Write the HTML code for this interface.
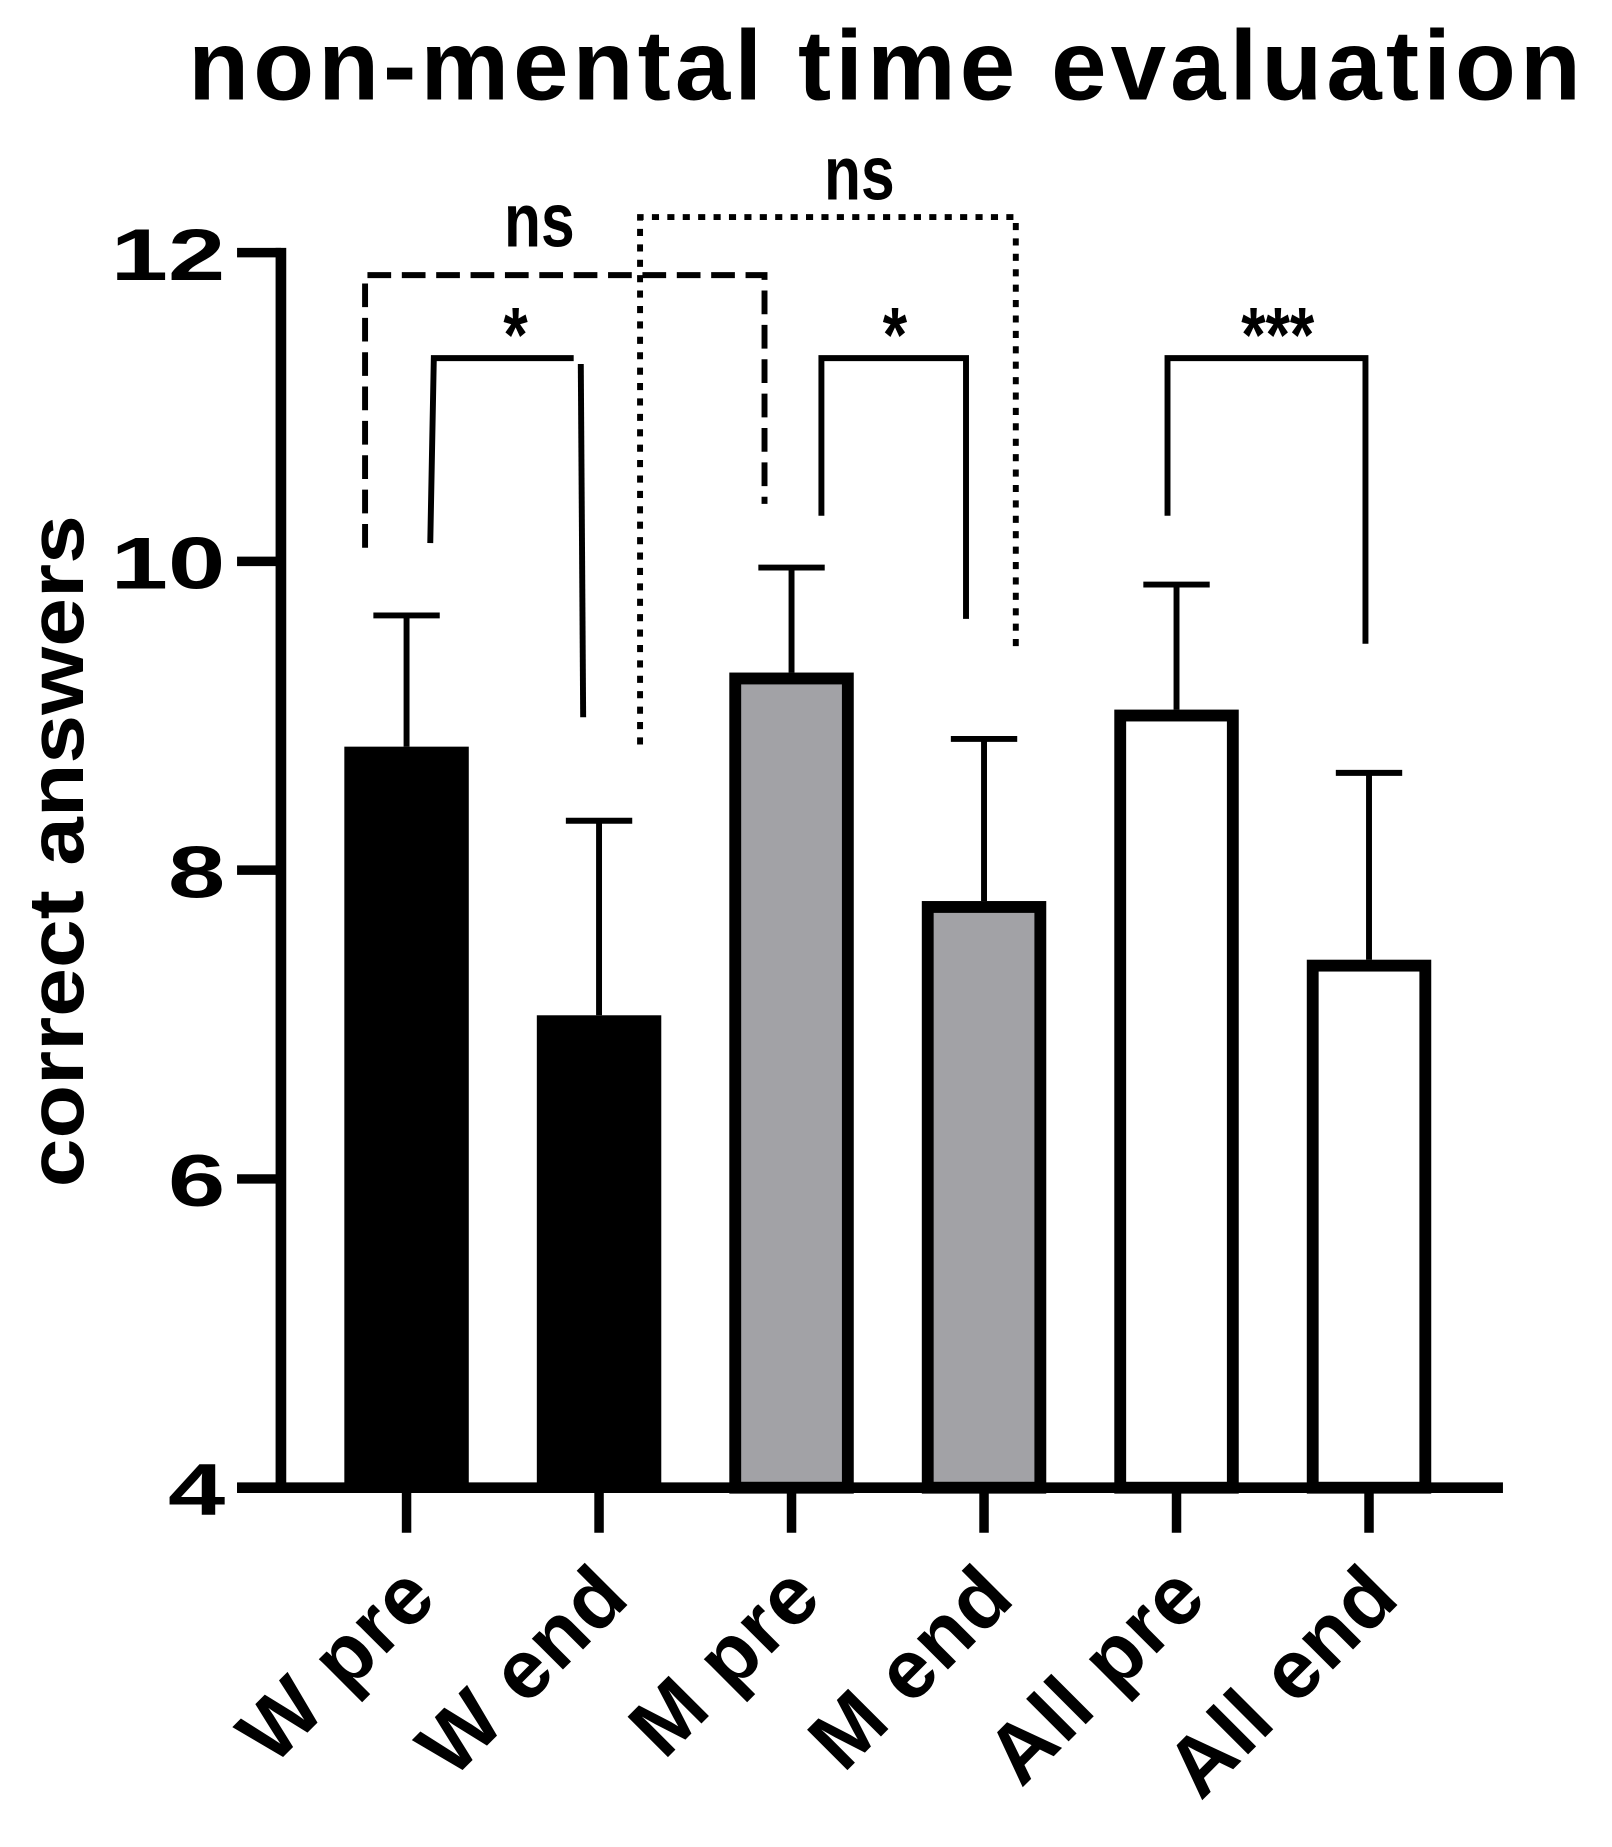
<!DOCTYPE html>
<html><head><meta charset="utf-8">
<style>
html,body{margin:0;padding:0;background:#fff;}
svg{display:block;}
text{font-family:"Liberation Sans",Arial,sans-serif;fill:#000;}
</style></head>
<body>
<svg id="chart" width="1612" height="1847" viewBox="0 0 1360 1558" xmlns="http://www.w3.org/2000/svg">
<text x="748" y="84" text-anchor="middle" font-size="84" font-weight="bold" letter-spacing="3.5">non-mental time evaluation</text>
<g id="g"></g>
</svg>
<script>
const categories = ["W pre","W end","M pre","M end","All pre","All end"];
const means = [8.80, 7.06, 9.28, 7.80, 9.04, 7.42];
const errors = [0.85, 1.26, 0.68, 1.05, 0.81, 1.21];
const fills = ["#000","#000","#a2a2a6","#a2a2a6","#fff","#fff"];
const yTicks = [4, 6, 8, 10, 12];

const NS = "http://www.w3.org/2000/svg";
const g = document.getElementById("g");
const y0 = 1255, yTop = 213, vMin = 4, vMax = 12;
function y(v){ return y0 - (v - vMin) / (vMax - vMin) * (y0 - yTop); }
function x(i){ return 343 + i * 162.4; }
function mk(tag, attrs, parent){
  const e = document.createElementNS(NS, tag);
  for (const k in attrs) e.setAttribute(k, attrs[k]);
  (parent || g).appendChild(e);
  return e;
}
const bw = 105;
categories.forEach((c, i) => {
  const cx = x(i), top = y(means[i]);
  const eb = mk("g", {});
  
  
  mk("line", {x1:cx, x2:cx, y1:top, y2:y(means[i]+errors[i]), stroke:"#000","stroke-width":5}, eb);
  mk("line", {x1:cx-28, x2:cx+28, y1:y(means[i]+errors[i]), y2:y(means[i]+errors[i]), stroke:"#000","stroke-width":5}, eb);
  let r;
  if (i < 2) {
    r = mk("rect", {x:cx-bw/2, y:top, width:bw, height:y0-top, fill:"#000"});
  } else {
    r = mk("rect", {x:cx-bw/2+5, y:top+5, width:bw-10, height:y0-top-5, fill:fills[i], stroke:"#000","stroke-width":10});
  }
  
  
  mk("line", {x1:cx, x2:cx, y1:y0, y2:1293, stroke:"#000","stroke-width":8});
  const t = mk("text", {x:0, y:0, "font-size":70, "font-weight":"bold", "text-anchor":"end", "letter-spacing":1,
    transform:`translate(${cx+28},${1350}) rotate(-45)`});
  t.textContent = c;
  
  
});
const ya = mk("line", {x1:237, x2:237, y1:yTop-4, y2:y0+4, stroke:"#000","stroke-width":9});


const xa = mk("line", {x1:200, x2:1268, y1:y0, y2:y0, stroke:"#000","stroke-width":9});


yTicks.forEach(v => {
  mk("line", {x1:200, x2:237, y1:y(v), y2:y(v), stroke:"#000","stroke-width":8});
  const t = mk("text", {x:0, y:0, "font-size":62, "font-weight":"bold", "text-anchor":"end",
    transform:`translate(190,${y(v)+23}) scale(1.4,1)`});
  t.textContent = v;
  
  
});
const yt = mk("text", {x:0, y:0, "font-size":66, "font-weight":"bold", "text-anchor":"middle",
  transform:"translate(70,718) rotate(-90) scale(1.12,1)"});
yt.textContent = "correct answers";


function bracket(name, pts, dash, label, lx, ly){
  const p = mk("polyline", {points:pts, fill:"none", stroke:"#000","stroke-width":5, "stroke-dasharray":dash||"none"});
  
  
  const t = mk("text", {x:0, y:0, "font-size":label==="ns"?58:60, "font-weight":"bold", "text-anchor":"middle",
    transform:`translate(${lx},${ly}) scale(0.88,1.1)`});
  t.textContent = label;
  
  
}
bracket("ns-bracket-w-m-pre", "308,462 308,232 645,232 645,425", "20,9", "ns", 455, 208);
bracket("ns-bracket-w-m-end", "540,628 540,183 857,183 857,545", "6,7", "ns", 725, 168);
bracket("sig-bracket-w", "363,458 366,302 484,302", "", "*", 435, 305);
mk("line",{x1:490,x2:492,y1:307,y2:605,stroke:"#000","stroke-width":5});
bracket("sig-bracket-m", "693,435 693,302 815,302 815,522", "", "*", 755, 305);
bracket("sig-bracket-all", "985,435 985,302 1152,302 1152,543", "", "***", 1078, 305);
</script>
</body></html>
